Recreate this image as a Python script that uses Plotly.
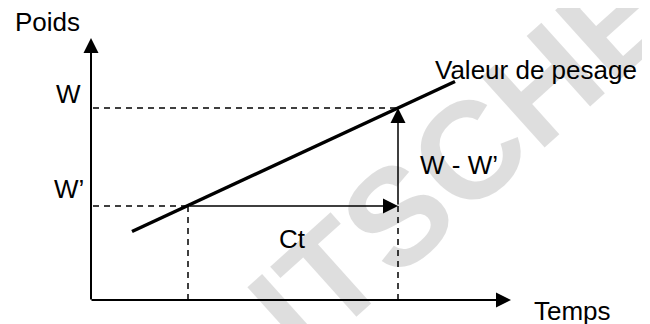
import plotly.graph_objects as go

# ---- chart values (diagram units: x = time, y = weight) ----
origin = (91, 24)
time_axis_end = 511
weight_axis_end = 286
t_start = 188          # time where weight W' is read
t_end = 398            # time where weight W is read
w_prime = 118          # W'
w_value = 216          # W
weigh_line_x = [132, 455]
weigh_line_y = [92.5, 242.5]
dash_left = 93

labels = ["Poids", "W", "W’", "Ct", "W - W’", "Valeur de pesage", "Temps"]

watermark_text = "ITSCHE"

# ---- layout of the labels (kept apart from the values) ----
LABEL_POS = {
    "Poids": (13, 302, "left", 26),
    "W": (83, 230.5, "right", 26),
    "W’": (86, 135.5, "right", 26),
    "Ct": (292, 85.5, "center", 26),
    "W - W’": (418, 159, "left", 26),
    "Valeur de pesage": (433, 254.5, "left", 26),
    "Temps": (532, 13, "left", 26),
}

FONT = "Liberation Sans, Arial, sans-serif"
PAGE_MARGIN = 8  # default body margin of the html page

fig = go.Figure()

# dashed guide lines
dash_style = dict(color="black", width=1.5, dash="6px,5px")
fig.add_trace(go.Scatter(x=[dash_left, t_end], y=[w_value, w_value], mode="lines", line=dash_style))
fig.add_trace(go.Scatter(x=[dash_left, t_start], y=[w_prime, w_prime], mode="lines", line=dash_style))
fig.add_trace(go.Scatter(x=[t_start, t_start], y=[w_prime, origin[1]], mode="lines", line=dash_style))
fig.add_trace(go.Scatter(x=[t_end, t_end], y=[w_prime, origin[1]], mode="lines", line=dash_style))

# weighing value line
fig.add_trace(go.Scatter(x=weigh_line_x, y=weigh_line_y, mode="lines",
                         line=dict(color="black", width=3.5)))

annotations = []
# watermark
annotations.append(dict(x=460, y=165, xref="x", yref="y", text=watermark_text, showarrow=False,
                        textangle=-42, font=dict(family=FONT, size=138, color="rgba(0,0,0,0.13)", weight="bold"),
                        xanchor="center", yanchor="middle"))

def arrow(x0, y0, x1, y1, width, size):
    return dict(x=x1, y=y1, ax=x0, ay=y0, xref="x", yref="y", axref="x", ayref="y",
                text="", showarrow=True, arrowhead=2, arrowsize=size, arrowwidth=width,
                arrowcolor="black", standoff=0, startstandoff=0)

# axes
annotations.append(arrow(origin[0], origin[1] - 1, origin[0], weight_axis_end, 2, 1.5))
annotations.append(arrow(origin[0] - 1, origin[1], time_axis_end, origin[1], 2, 1.5))
# Ct and W - W' arrows
annotations.append(arrow(t_start, w_prime, t_end, w_prime, 1.5, 2))
annotations.append(arrow(t_end, w_prime, t_end, w_value, 1.5, 2))

for txt in labels:
    lx, ly, anc, size = LABEL_POS[txt]
    annotations.append(dict(x=lx, y=ly, xref="x", yref="y", text=txt, showarrow=False,
                            xanchor=anc, yanchor="middle",
                            font=dict(family=FONT, size=size, color="black")))

W, H = 650, 324
fig.update_layout(
    width=W - PAGE_MARGIN, height=H - PAGE_MARGIN,
    margin=dict(l=0, r=0, t=0, b=0),
    paper_bgcolor="white", plot_bgcolor="white",
    showlegend=False,
    xaxis=dict(range=[PAGE_MARGIN, W], visible=False, fixedrange=True),
    yaxis=dict(range=[0, H - PAGE_MARGIN], visible=False, fixedrange=True),
    annotations=annotations,
    hovermode=False,
)

fig.write_html("out.html", config={"displayModeBar": False})
